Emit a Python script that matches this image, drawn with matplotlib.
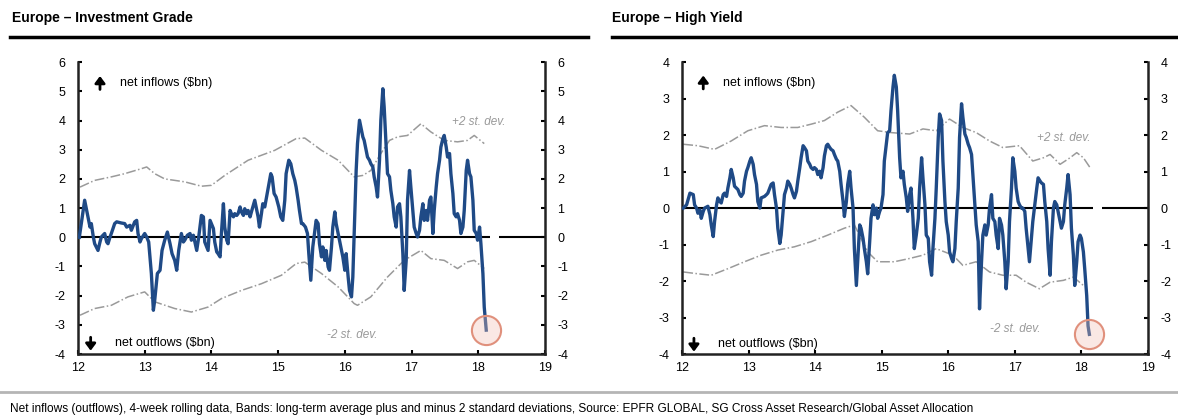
import matplotlib.pyplot as plt
from matplotlib.lines import Line2D

plt.rcParams['font.family'] = ['Liberation Sans', 'DejaVu Sans']
plt.rcParams['axes.unicode_minus'] = False

# x values are years (12 = 2012), flows in $bn, 4-week rolling

# Europe - Investment Grade
ig_year = [12.02, 12.10, 12.15, 12.18, 12.20, 12.23, 12.25, 12.30, 12.33, 12.35, 12.40, 12.43, 12.45, 12.48,
           12.50, 12.55, 12.58, 12.65, 12.70, 12.73, 12.78, 12.80, 12.85, 12.88, 12.90, 12.93, 12.95, 13.00,
           13.03, 13.06, 13.10, 13.13, 13.15, 13.19, 13.23, 13.26, 13.30, 13.34, 13.38, 13.41, 13.45, 13.48,
           13.51, 13.55, 13.58, 13.60, 13.64, 13.68, 13.70, 13.73, 13.78, 13.81, 13.85, 13.88, 13.90, 13.93,
           13.95, 13.98, 14.00, 14.03, 14.05, 14.08, 14.10, 14.13, 14.15, 14.18, 14.20, 14.23, 14.25, 14.28,
           14.30, 14.33, 14.35, 14.38, 14.40, 14.43, 14.45, 14.48, 14.50, 14.53, 14.55, 14.58, 14.60, 14.65,
           14.67, 14.70, 14.72, 14.75, 14.77, 14.80, 14.85, 14.89, 14.91, 14.94, 14.97, 15.01, 15.04, 15.07,
           15.10, 15.12, 15.16, 15.19, 15.22, 15.25, 15.27, 15.30, 15.32, 15.35, 15.37, 15.41, 15.44, 15.46,
           15.49, 15.52, 15.57, 15.60, 15.62, 15.65, 15.67, 15.70, 15.72, 15.75, 15.77, 15.80, 15.82, 15.85,
           15.87, 15.90, 15.92, 15.95, 15.97, 16.00, 16.02, 16.05, 16.07, 16.10, 16.12, 16.14, 16.17, 16.19,
           16.22, 16.24, 16.27, 16.29, 16.32, 16.34, 16.37, 16.39, 16.42, 16.44, 16.47, 16.49, 16.52, 16.54,
           16.57, 16.59, 16.62, 16.64, 16.67, 16.69, 16.72, 16.74, 16.77, 16.79, 16.82, 16.84, 16.87, 16.89,
           16.92, 16.94, 16.97, 16.99, 17.02, 17.04, 17.07, 17.09, 17.12, 17.14, 17.17, 17.19, 17.22, 17.24,
           17.27, 17.29, 17.32, 17.34, 17.37, 17.39, 17.42, 17.44, 17.47, 17.49, 17.52, 17.54, 17.57, 17.59,
           17.62, 17.64, 17.67, 17.69, 17.72, 17.74, 17.77, 17.79, 17.82, 17.84, 17.87, 17.89, 17.92, 17.94,
           17.97, 17.99, 18.02, 18.04, 18.07, 18.09, 18.12]
ig_flow = [0.00, 1.27, 0.70, 0.35, 0.47, 0.01, -0.22, -0.45, -0.16, 0.01, 0.13, -0.16, -0.22, 0.01,
           0.13, 0.47, 0.53, 0.49, 0.47, 0.35, 0.41, 0.24, 0.53, 0.58, 0.13, -0.16, -0.05, 0.13,
           0.01, -0.16, -1.24, -2.50, -2.16, -1.24, -1.13, -0.45, -0.10, 0.18, -0.22, -0.56, -0.79, -1.13,
           -0.45, 0.13, -0.16, -0.10, 0.07, 0.13, -0.10, 0.07, -0.45, 0.01, 0.75, 0.70, -0.16, -0.33,
           -0.45, 0.58, 0.47, 0.30, -0.16, -0.50, -0.56, -0.67, 0.13, 1.15, 0.35, -0.10, -0.22, 0.92,
           0.81, 0.70, 0.81, 0.75, 0.81, 1.04, 0.87, 0.75, 0.98, 0.81, 0.92, 0.70, 0.87, 1.27,
           1.04, 0.70, 0.35, 0.81, 1.15, 1.04, 1.67, 2.18, 2.07, 1.50, 1.38, 1.04, 0.70, 0.58,
           1.27, 2.18, 2.64, 2.52, 2.18, 1.95, 1.72, 1.27, 0.92, 0.47, 0.47, 0.35, 0.13, -0.56,
           -1.47, -0.33, 0.58, 0.47, -0.22, -0.67, -0.33, -0.79, -0.45, -1.02, -1.13, -0.33, 0.35, 0.87,
           0.47, 0.13, -0.10, -0.45, -0.67, -1.13, -0.56, -1.36, -1.82, -2.04, -1.36, 0.13, 2.29, 3.21,
           4.01, 3.78, 3.44, 3.32, 2.98, 2.75, 2.64, 2.52, 2.41, 2.07, 1.72, 1.38, 2.64, 4.01,
           5.09, 4.46, 3.09, 2.18, 2.07, 1.61, 1.15, 0.70, 0.35, 1.04, 1.15, 0.70, -0.56, -1.82,
           -0.79, 1.27, 2.29, 1.72, 0.92, 0.35, 0.13, 0.01, 0.24, 0.70, 1.15, 0.58, 0.92, 0.58,
           1.27, 1.38, 0.13, 0.92, 1.72, 2.18, 2.64, 3.09, 3.38, 3.49, 3.09, 2.75, 2.87, 2.18,
           1.50, 0.81, 0.70, 0.81, 0.58, 0.13, 0.35, 0.92, 2.29, 2.64, 2.18, 2.07, 1.27, 0.24,
           0.13, -0.10, 0.35, -0.22, -1.24, -2.39, -3.18]
ig_up_year = [12.03, 12.25, 12.50, 12.70, 12.95, 13.03, 13.15, 13.30, 13.60, 13.85, 14.00, 14.20, 14.55,
              14.95, 15.27, 15.40, 15.65, 15.90, 16.14, 16.27, 16.39, 16.54, 16.67, 16.79, 16.94, 17.14,
              17.29, 17.49, 17.69, 17.84, 17.94, 18.09]
ig_up = [1.72, 1.95, 2.07, 2.18, 2.35, 2.41, 2.18, 2.00, 1.90, 1.75, 1.78, 2.12, 2.64,
         2.98, 3.38, 3.40, 2.98, 2.64, 2.07, 2.12, 2.29, 2.87, 3.32, 3.44, 3.49, 3.89,
         3.61, 3.32, 3.27, 3.32, 3.49, 3.21]
ig_lo_year = [12.03, 12.25, 12.50, 12.75, 13.00, 13.15, 13.45, 13.70, 13.95, 14.15, 14.45, 14.75, 15.05,
              15.27, 15.40, 15.65, 15.90, 16.14, 16.19, 16.39, 16.64, 16.89, 17.14, 17.29, 17.49, 17.69,
              17.84, 17.94, 18.09]
ig_lo = [-2.67, -2.44, -2.33, -2.04, -1.87, -2.21, -2.44, -2.56, -2.39, -2.10, -1.82, -1.59, -1.30,
         -0.90, -0.85, -1.24, -1.70, -2.27, -2.33, -2.04, -1.36, -0.79, -0.45, -0.73, -0.79, -1.07,
         -0.84, -0.79, -1.07]

# Europe - High Yield
hy_year = [12.02, 12.07, 12.12, 12.17, 12.19, 12.22, 12.24, 12.27, 12.29, 12.32, 12.34, 12.39, 12.42, 12.44,
           12.47, 12.49, 12.52, 12.54, 12.57, 12.59, 12.62, 12.64, 12.67, 12.69, 12.72, 12.74, 12.77, 12.79,
           12.84, 12.87, 12.89, 12.92, 12.94, 12.97, 12.99, 13.02, 13.04, 13.07, 13.09, 13.12, 13.14, 13.17,
           13.19, 13.24, 13.27, 13.29, 13.32, 13.34, 13.37, 13.39, 13.42, 13.44, 13.47, 13.49, 13.52, 13.54,
           13.57, 13.59, 13.62, 13.64, 13.67, 13.69, 13.72, 13.74, 13.77, 13.79, 13.82, 13.84, 13.87, 13.89,
           13.92, 13.94, 13.97, 13.99, 14.02, 14.04, 14.07, 14.09, 14.12, 14.14, 14.17, 14.19, 14.22, 14.24,
           14.27, 14.29, 14.32, 14.34, 14.37, 14.39, 14.42, 14.44, 14.47, 14.49, 14.52, 14.54, 14.57, 14.59,
           14.62, 14.64, 14.67, 14.69, 14.72, 14.74, 14.77, 14.79, 14.82, 14.84, 14.87, 14.89, 14.92, 14.94,
           14.97, 14.99, 15.02, 15.04, 15.09, 15.12, 15.14, 15.17, 15.19, 15.22, 15.24, 15.27, 15.29, 15.32,
           15.34, 15.37, 15.39, 15.42, 15.44, 15.47, 15.49, 15.52, 15.55, 15.57, 15.60, 15.62, 15.65, 15.67,
           15.70, 15.72, 15.75, 15.77, 15.80, 15.82, 15.85, 15.87, 15.90, 15.92, 15.95, 15.97, 16.00, 16.02,
           16.05, 16.07, 16.10, 16.12, 16.15, 16.17, 16.20, 16.22, 16.25, 16.27, 16.30, 16.32, 16.35, 16.37,
           16.40, 16.42, 16.45, 16.47, 16.50, 16.52, 16.55, 16.57, 16.60, 16.62, 16.65, 16.67, 16.70, 16.72,
           16.75, 16.77, 16.80, 16.82, 16.85, 16.87, 16.90, 16.92, 16.95, 16.97, 17.00, 17.02, 17.05, 17.07,
           17.10, 17.12, 17.15, 17.17, 17.20, 17.22, 17.25, 17.27, 17.30, 17.33, 17.35, 17.38, 17.40, 17.43,
           17.45, 17.48, 17.50, 17.53, 17.55, 17.58, 17.60, 17.63, 17.65, 17.68, 17.70, 17.73, 17.75, 17.78,
           17.80, 17.83, 17.85, 17.88, 17.90, 17.93, 17.95, 17.98, 18.00, 18.03, 18.05, 18.08, 18.10, 18.12]
hy_flow = [0.00, 0.09, 0.41, 0.37, 0.09, 0.00, -0.14, -0.05, -0.28, -0.09, 0.00, 0.05, -0.18, -0.46,
           -0.78, -0.37, 0.09, 0.28, 0.18, 0.14, 0.37, 0.41, 0.32, 0.55, 0.83, 1.06, 0.83, 0.60,
           0.51, 0.37, 0.32, 0.41, 0.74, 1.01, 1.11, 1.29, 1.38, 1.20, 0.92, 0.65, 0.18, 0.00,
           0.28, 0.32, 0.37, 0.41, 0.55, 0.65, 0.69, 0.37, 0.00, -0.55, -0.97, -0.74, -0.09, 0.37,
           0.55, 0.74, 0.65, 0.55, 0.37, 0.28, 0.46, 0.74, 1.11, 1.38, 1.71, 1.66, 1.57, 1.29,
           1.20, 1.11, 1.06, 1.11, 1.06, 0.92, 1.01, 0.83, 1.11, 1.43, 1.71, 1.75, 1.66, 1.61,
           1.57, 1.47, 1.34, 1.29, 1.01, 0.65, 0.18, -0.23, 0.18, 0.65, 1.01, 0.55, 0.00, -1.11,
           -2.12, -1.47, -0.46, -0.55, -0.83, -1.11, -1.47, -1.80, -0.92, -0.28, 0.09, -0.18, 0.00, -0.28,
           -0.09, 0.00, 0.37, 1.29, 2.07, 2.12, 2.67, 3.32, 3.64, 3.32, 2.67, 1.38, 0.83, 1.01,
           0.65, 0.28, -0.09, 0.37, 0.55, -0.28, -1.11, -0.74, -0.28, 0.55, 1.38, 0.83, 0.09, -0.74,
           -0.83, -1.47, -1.84, -1.11, -0.28, 0.55, 1.94, 2.58, 2.40, 1.29, 0.18, -0.37, -0.74, -1.20,
           -1.38, -1.47, -1.11, -0.37, 0.55, 1.94, 2.86, 2.49, 2.03, 1.94, 1.75, 1.66, 1.47, 0.92,
           0.09, -0.46, -0.92, -2.76, -1.47, -0.74, -0.46, -0.74, -0.46, 0.00, 0.37, -0.28, -0.37, -0.74,
           -1.11, -0.28, -0.46, -0.74, -1.47, -2.21, -1.47, -0.37, 0.55, 1.38, 1.01, 0.55, 0.18, 0.09,
           0.00, 0.00, -0.09, -0.55, -1.11, -1.47, -0.83, -0.37, 0.09, 0.55, 0.83, 0.74, 0.69, 0.65,
           0.18, -0.37, -1.11, -1.84, -0.92, 0.00, 0.18, 0.09, -0.09, -0.37, -0.55, -0.37, 0.09, 0.55,
           0.92, 0.37, -0.55, -1.29, -2.12, -1.47, -0.92, -0.74, -0.83, -1.20, -1.66, -2.40, -3.23, -3.46]
hy_up_year = [12.02, 12.24, 12.49, 12.74, 12.99, 13.24, 13.49, 13.74, 13.94, 14.14, 14.34, 14.54, 14.74,
              14.94, 15.14, 15.42, 15.62, 15.82, 16.02, 16.22, 16.42, 16.62, 16.82, 17.07, 17.27, 17.43,
              17.53, 17.68, 17.83, 17.93, 18.03, 18.13]
hy_up = [1.75, 1.71, 1.61, 1.84, 2.12, 2.26, 2.21, 2.21, 2.30, 2.40, 2.63, 2.81, 2.49,
         2.12, 2.07, 2.03, 2.17, 2.12, 2.44, 2.21, 2.07, 1.84, 1.66, 1.71, 1.29, 1.38,
         1.47, 1.20, 1.38, 1.52, 1.38, 1.11]
hy_lo_year = [12.02, 12.24, 12.44, 12.69, 12.94, 13.19, 13.44, 13.69, 13.94, 14.19, 14.44, 14.59, 14.79,
              14.94, 15.19, 15.42, 15.62, 15.82, 16.07, 16.22, 16.42, 16.62, 16.82, 17.02, 17.17, 17.37,
              17.53, 17.73, 17.88, 18.03]
hy_lo = [-1.75, -1.80, -1.84, -1.66, -1.47, -1.29, -1.15, -1.06, -0.92, -0.74, -0.55, -0.46, -1.20,
         -1.47, -1.47, -1.38, -1.29, -1.11, -1.29, -1.57, -1.47, -1.75, -1.84, -1.84, -2.03, -2.21,
         -2.03, -1.98, -1.89, -2.12]

year_ticks = [12, 13, 14, 15, 16, 17, 18, 19]
footnote = ('Net inflows (outflows), 4-week rolling data, Bands: long-term average plus and minus 2 standard '
            'deviations, Source: EPFR GLOBAL, SG Cross Asset Research/Global Asset Allocation')

BLUE = '#1f4a86'
GREY = '#9a9a9a'

fig = plt.figure(figsize=(11.78, 4.2), dpi=100)


def panel(rect, title, title_x, line_x, years, flows, up_x, up, lo_x, lo, ylim, labels):
    ax = fig.add_axes(rect)
    ax.set_xlim(12, 19)
    ax.set_ylim(*ylim)
    ax.set_xticks(year_ticks)
    ax.set_yticks(range(ylim[0], ylim[1] + 1))
    for s in ['left', 'right', 'bottom']:
        ax.spines[s].set_linewidth(1.8)
        ax.spines[s].set_color('#222222')
    ax.spines['top'].set_visible(False)
    ax.tick_params(axis='y', direction='in', length=3, width=1.5, labelsize=9, pad=9,
                   left=True, right=True, labelleft=True, labelright=True)
    ax.tick_params(axis='x', direction='in', length=3, width=1.5, labelsize=9, pad=6)

    # zero line, broken near the end like the original
    ax.hlines(0, 12, 18.18, color='black', lw=1.5, zorder=1)
    ax.hlines(0, 18.31, 19, color='black', lw=1.5, zorder=1)

    ax.plot(up_x, up, color=GREY, lw=1.1, ls='-.')
    ax.plot(lo_x, lo, color=GREY, lw=1.1, ls='-.')
    ax.plot(years, flows, color=BLUE, lw=2.4, zorder=3)

    # circle the latest reading
    ax.plot(years[-1], flows[-1], 'o', ms=21, mfc=(0.95, 0.75, 0.7, 0.35), mec='#e0907c', mew=1.5, zorder=4)

    (ux, uy), (ox, oy), (px, py), (mx, my) = labels
    span = (ylim[1] - ylim[0]) / 10
    ax.annotate('', xy=(ux - 0.3, uy + 0.35 * span), xytext=(ux - 0.3, uy - 0.3 * span),
                arrowprops=dict(arrowstyle='-|>,head_width=0.3,head_length=0.4', color='black', lw=2))
    ax.text(ux, uy, 'net inflows ($bn)', fontsize=9, va='center')
    ax.annotate('', xy=(ox - 0.36, oy - 0.35 * span), xytext=(ox - 0.36, oy + 0.3 * span),
                arrowprops=dict(arrowstyle='-|>,head_width=0.3,head_length=0.4', color='black', lw=2))
    ax.text(ox, oy, 'net outflows ($bn)', fontsize=9, va='center')
    ax.text(px, py, '+2 st. dev.', fontsize=8.5, style='italic', color=GREY, va='center')
    ax.text(mx, my, '-2 st. dev.', fontsize=8.5, style='italic', color=GREY, va='center')

    fig.text(title_x, 0.957, title, fontsize=10, fontweight='bold', va='center')
    fig.add_artist(Line2D(line_x, [0.912, 0.912], color='black', lw=2.5, transform=fig.transFigure))
    return ax


panel([0.0662, 0.157, 0.3964, 0.695], 'Europe \u2013 Investment Grade', 0.0102, [0.0085, 0.499],
      ig_year, ig_flow, ig_up_year, ig_up, ig_lo_year, ig_lo, (-4, 6),
      [(12.63, 5.27), (12.55, -3.63), (17.61, 3.94), (15.73, -3.36)])
panel([0.5789, 0.157, 0.3956, 0.695], 'Europe \u2013 High Yield', 0.5195, [0.5195, 1.0],
      hy_year, hy_flow, hy_up_year, hy_up, hy_lo_year, hy_lo, (-4, 4),
      [(12.62, 3.43), (12.54, -3.73), (17.33, 1.93), (16.62, -3.31)])

# footer
fig.add_artist(Line2D([0, 1], [0.066, 0.066], color='#b5b5b5', lw=2, transform=fig.transFigure))
fig.text(0.0085, 0.026, footnote, fontsize=8.6, va='center')

plt.savefig('out.png', dpi=100)
